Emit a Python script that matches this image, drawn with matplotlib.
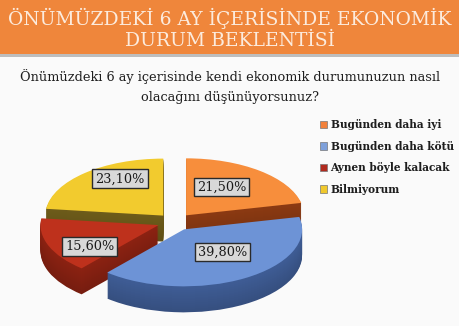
import matplotlib
matplotlib.use("Agg")
import matplotlib.pyplot as plt
import numpy as np
from matplotlib.patches import Rectangle
from matplotlib.colors import to_rgb

# ---- data ----
title_lines = ["ÖNÜMÜZDEKİ 6 AY İÇERİSİNDE EKONOMİK", "DURUM BEKLENTİSİ"]
question_lines = ["Önümüzdeki 6 ay içerisinde kendi ekonomik durumunuzun nasıl",
                  "olacağını düşünüyorsunuz?"]
categories = ["Bugünden daha iyi", "Bugünden daha kötü", "Aynen böyle kalacak", "Bilmiyorum"]
values = [21.5, 39.8, 15.6, 23.1]

# ---- style ----
top_colors = ["#F78E3C", "#6D93D6", "#BE311C", "#F2CB2E"]
side_colors = ["#8C3A12", "#3F5D96", "#8C2212", "#6E5C1A"]
legend_colors = ["#F2803A", "#7EA0DA", "#B02A1E", "#F0C82C"]
label_r = [0.58, 0.51, 0.69, 0.74]
label_dang = [5.7, 6.3, 9.6, -10.0]
SERIF = ["DejaVu Serif"]

W, H = 460, 326
fig = plt.figure(figsize=(W / 100, H / 100), dpi=100)
fig.patch.set_facecolor("#FAFAFA")

# background axes in pixel coords
bg = fig.add_axes([0, 0, 1, 1])
bg.set_xlim(0, W)
bg.set_ylim(H, 0)
bg.axis("off")
bg.add_patch(Rectangle((0, 0), W, 54, facecolor="#EF863B", edgecolor="none", zorder=1))
bg.add_patch(Rectangle((0, 54), W, 3, facecolor="#BDBDBD", edgecolor="none", zorder=1))
bg.text(W / 2, 18, title_lines[0], ha="center", va="center", color="#FCEBDD",
        fontsize=13.5, family=SERIF, zorder=2)
bg.text(W / 2, 41, title_lines[1], ha="center", va="center", color="#FCEBDD",
        fontsize=13.5, family=SERIF, zorder=2)
bg.text(W / 2, 77, question_lines[0], ha="center", va="center", color="#1E1E1E",
        fontsize=9.25, family=SERIF, zorder=2)
bg.text(W / 2, 97, question_lines[1], ha="center", va="center", color="#1E1E1E",
        fontsize=9.25, family=SERIF, zorder=2)

# pie axes: squashed so the circle becomes an ellipse
cx, cy, R, RY, DEPTH = 175, 222, 118, 57, 26
ax = fig.add_axes([0, 0, 1, 1])
ax.patch.set_alpha(0)
explode = [0.15] * len(values)

n_layers = 26
dz = (DEPTH / RY) / n_layers
for k in range(n_layers, 0, -1):
    f = 0.85 + 0.15 * (1 - k / n_layers)
    cols = [tuple(np.clip(np.array(to_rgb(c)) * f, 0, 1)) for c in side_colors]
    ax.pie(values, startangle=90, counterclock=False, explode=explode,
           colors=cols, center=(0, -k * dz), radius=1,
           wedgeprops=dict(linewidth=0, antialiased=True), frame=True)

wedges, _ = ax.pie(values, startangle=90, counterclock=False, explode=explode,
                   colors=top_colors, center=(0, 0), radius=1,
                   wedgeprops=dict(linewidth=0), frame=True)

# data labels
total = sum(values)
start = 90.0
for i, v in enumerate(values):
    span = 360.0 * v / total
    mid = np.deg2rad(start - span / 2 + label_dang[i])
    start -= span
    ex = explode[i]
    x = (ex + label_r[i]) * np.cos(mid)
    y = (ex + label_r[i]) * np.sin(mid)
    ax.text(x, y, f"{v:.2f}".replace(".", ",") + "%", ha="center", va="center",
            fontsize=9.3, family=SERIF, color="#1A1A1A", zorder=10,
            bbox=dict(boxstyle="square,pad=0.22", facecolor="#D8D8D8",
                      edgecolor="#2A2A2A", linewidth=1.0))

ax.set_aspect("auto")
ax.set_xlim((0 - cx) / R, (W - cx) / R)
ax.set_ylim(-(H - cy) / RY, cy / RY)
ax.axis("off")

# legend
handles = [Rectangle((0, 0), 1, 1, facecolor=c, edgecolor="#777777", linewidth=0.5)
           for c in legend_colors]
leg = fig.legend(handles, categories, loc="upper left", bbox_to_anchor=(320 / W, 1 - 119 / H),
                 frameon=False, handlelength=0.7, handleheight=0.7, handletextpad=0.3,
                 labelspacing=1.0, prop=dict(family=SERIF, size=7.6, weight="bold"),
                 borderaxespad=0, borderpad=0)
for t in leg.get_texts():
    t.set_color("#1E1E1E")

fig.savefig("out.png", dpi=100, facecolor=fig.get_facecolor())
